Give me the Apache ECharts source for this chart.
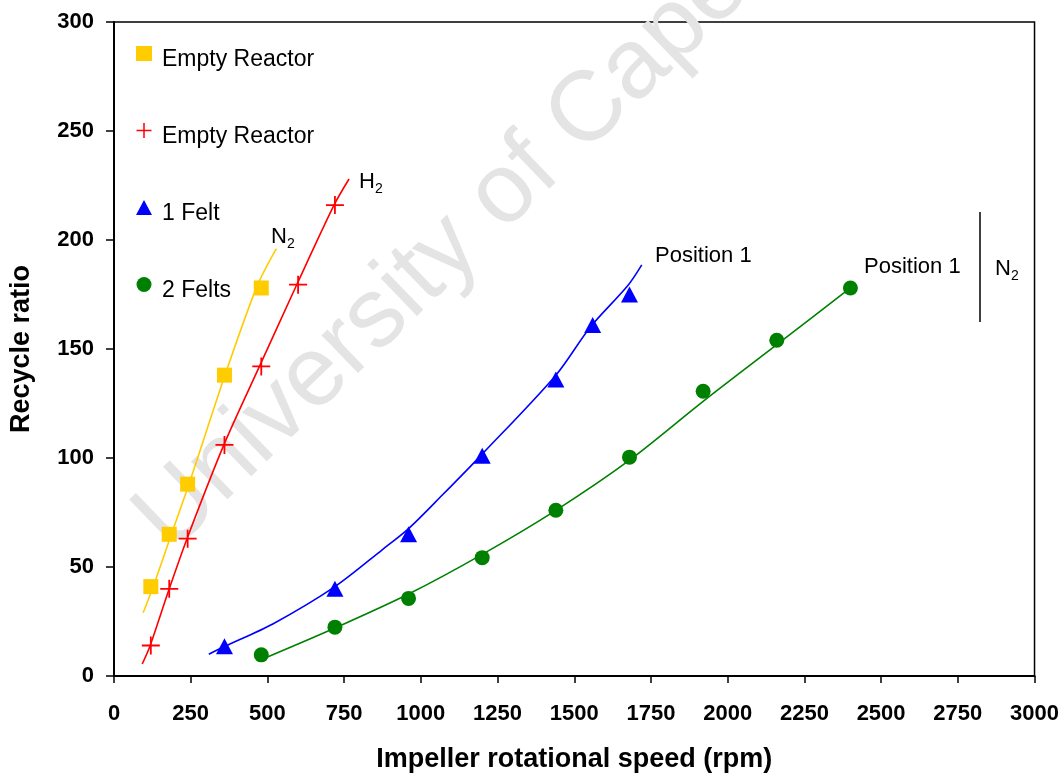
<!DOCTYPE html>
<html>
<head>
<meta charset="utf-8">
<script src="https://cdn.jsdelivr.net/npm/echarts@6/dist/echarts.min.js"></script>
<style>
  html, body { margin: 0; padding: 0; background: #fff; }
  #chart { width: 1062px; height: 778px; }
</style>
</head>
<body>
<div id="chart"></div>
<script>
const FONT = '"Liberation Sans", Arial, Helvetica, sans-serif';

// Axis ticks
const xTickValues = [0, 250, 500, 750, 1000, 1250, 1500, 1750, 2000, 2250, 2500, 2750, 3000];
const yTickValues = [0, 50, 100, 150, 200, 250, 300];

// Legend entries (series name -> label shown)
const seriesNames = ['Empty Reactor N2', 'Empty Reactor H2', '1 Felt', '2 Felts'];
const legendLabels = ['Empty Reactor', 'Empty Reactor', '1 Felt', '2 Felts'];

// Measured recycle ratios [rpm, ratio]
const emptyN2 = [[120, 41], [180, 65], [240, 88], [360, 138], [480, 178]];
const emptyH2 = [[120, 14], [180, 40], [240, 63], [360, 106], [480, 142], [600, 179.5], [720, 216]];
const oneFelt = [[360, 13.7], [720, 40], [960, 65], [1200, 101], [1440, 136], [1560, 161], [1680, 175]];
const twoFelts = [[480, 9.7], [720, 22.4], [960, 35.6], [1200, 54.3], [1440, 76], [1680, 100.4], [1920, 130.6], [2160, 154], [2400, 178]];

// Fitted trend curves [rpm, ratio]
const emptyN2Fit = [[95, 29], [129, 41.5], [187, 65], [245, 88.3], [363, 138.5], [465, 178.4], [529, 196]];
const emptyH2Fit = [[92, 5.5], [118, 14], [180, 40], [238, 63], [358, 106], [474, 142], [594, 179], [717, 216], [766, 228]];
const oneFeltFit = [[309, 10], [360, 13.5], [519, 24], [720, 41], [875, 58], [960, 67.6], [1070, 83], [1200, 101.8], [1440, 138], [1552, 160], [1674, 179], [1720, 188.6]];
const twoFeltsFit = [[500, 8.7], [720, 22], [960, 37.6], [1200, 55.8], [1440, 76], [1680, 99], [1920, 126], [2160, 152], [2400, 178]];

const COLORS = ['#FFCC00', '#FF0000', '#0000FF', '#008000'];
const CROSS = 'path://M45,0H55V45H100V55H55V100H45V55H0V45H45Z';

const chart = echarts.init(document.getElementById('chart'), null, { renderer: 'canvas' });

function markerSeries(i, data, symbol, size) {
  return {
    name: seriesNames[i],
    type: 'scatter',
    data: data,
    symbol: symbol,
    symbolSize: size,
    itemStyle: { color: COLORS[i], opacity: 1 },
    z: 4
  };
}
function fitSeries(i, data) {
  return {
    type: 'line',
    data: data,
    smooth: 0.3,
    showSymbol: false,
    silent: true,
    lineStyle: { color: COLORS[i], width: 1.6 },
    z: 3
  };
}

function label(text, x, y, size) {
  return {
    type: 'text', x: x, y: y, silent: true, z: 10,
    style: { text: text, font: size + 'px ' + FONT, fill: '#000', textAlign: 'left', textVerticalAlign: 'middle' }
  };
}

const option = {
  backgroundColor: '#fff',
  animation: false,
  grid: {
    left: 110, right: 27, top: 22, bottom: 99,
    show: true, borderColor: '#000', borderWidth: 1.5, backgroundColor: 'transparent'
  },
  legend: {
    orient: 'vertical',
    left: 131, top: 41,
    itemWidth: 16, itemHeight: 15,
    itemGap: 52,
    selectedMode: false,
    data: seriesNames,
    formatter: function (name) { return '{t|' + legendLabels[seriesNames.indexOf(name)] + '}'; },
    textStyle: {
      fontFamily: FONT, fontSize: 23, color: '#000',
      rich: { t: { fontFamily: FONT, fontSize: 23, color: '#000', padding: [12, 0, 0, 5] } }
    }
  },
  xAxis: {
    type: 'value',
    min: xTickValues[0], max: xTickValues[xTickValues.length - 1],
    interval: xTickValues[1] - xTickValues[0],
    name: 'Impeller rotational speed (rpm)',
    nameLocation: 'middle', nameGap: 70,
    nameTextStyle: { fontFamily: FONT, fontSize: 27, fontWeight: 'bold', color: '#000' },
    axisLine: { onZero: false, lineStyle: { color: '#000', width: 2 } },
    axisTick: { show: true, inside: false, length: 7, lineStyle: { color: '#000', width: 1.5 } },
    axisLabel: {
      margin: 27, fontFamily: FONT, fontSize: 22, fontWeight: 'bold', color: '#000',
      formatter: function (v) { return String(v); }
    },
    splitLine: { show: false }
  },
  yAxis: {
    type: 'value',
    min: yTickValues[0], max: yTickValues[yTickValues.length - 1],
    interval: yTickValues[1] - yTickValues[0],
    name: 'Recycle ratio',
    nameLocation: 'middle', nameGap: 79, nameRotate: 90,
    nameTextStyle: { fontFamily: FONT, fontSize: 27, fontWeight: 'bold', color: '#000' },
    axisLine: { onZero: false, lineStyle: { color: '#000', width: 2 } },
    axisTick: { show: true, inside: false, length: 8, lineStyle: { color: '#000', width: 1.5 } },
    axisLabel: {
      margin: 20, fontFamily: FONT, fontSize: 22, fontWeight: 'bold', color: '#000',
      formatter: function (v) { return String(v); }
    },
    splitLine: { show: false }
  },
  graphic: [
    {
      type: 'text', x: 152, y: 534, rotation: 44 * Math.PI / 180, silent: true, z: 0,
      style: { text: 'University of Cape Town', font: '99px ' + FONT, fill: '#e4e4e4', textAlign: 'left', textVerticalAlign: 'middle' }
    },
    label('N', 271, 237, 22), label('2', 287, 244, 14),
    label('H', 359, 182, 22), label('2', 375, 189, 14),
    label('Position 1', 655, 256, 22),
    label('Position 1', 864, 267, 22),
    {
      type: 'line', silent: true, z: 10,
      shape: { x1: 980, y1: 212, x2: 980, y2: 322 },
      style: { stroke: '#000', lineWidth: 1.5 }
    },
    label('N', 995, 269, 22), label('2', 1011, 276, 14)
  ],
  series: [
    fitSeries(0, emptyN2Fit),
    fitSeries(1, emptyH2Fit),
    fitSeries(2, oneFeltFit),
    fitSeries(3, twoFeltsFit),
    markerSeries(0, emptyN2, 'rect', 15),
    markerSeries(1, emptyH2, CROSS, 18),
    markerSeries(2, oneFelt, 'triangle', [17, 16]),
    markerSeries(3, twoFelts, 'circle', 15)
  ]
};

chart.setOption(option);
</script>
</body>
</html>
